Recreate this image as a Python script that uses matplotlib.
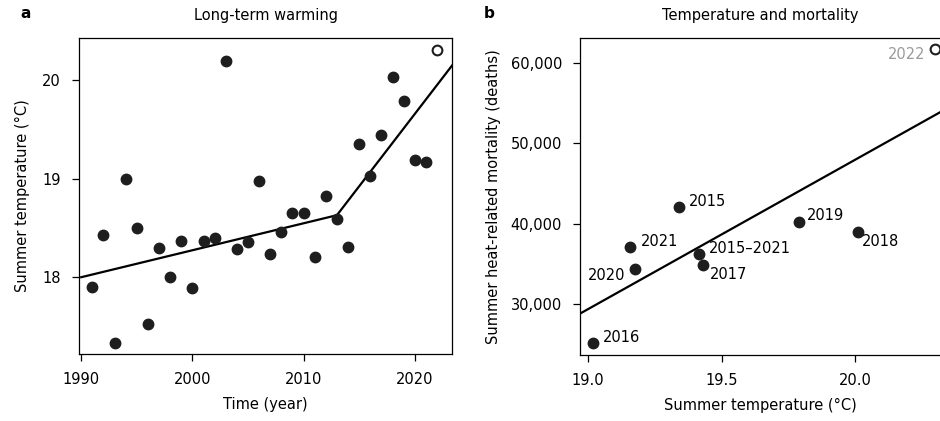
import matplotlib
matplotlib.use("Agg")
import matplotlib.pyplot as plt

# panel a: summer temperature by year
years = list(range(1991, 2023))
temps = [17.90, 18.43, 17.33, 19.00, 18.50, 17.52, 18.30, 18.00, 18.37, 17.89,
         18.37, 18.40, 20.20, 18.29, 18.36, 18.98, 18.24, 18.46, 18.65, 18.65,
         18.21, 18.82, 18.59, 18.31, 19.35, 19.03, 19.44, 20.03, 19.79, 19.19,
         19.17, 20.31]
trend_years = [1990, 2013, 2023.35]
trend_temps = [18.00, 18.63, 20.15]

# panel b: temperature vs heat-related deaths
b_labels = ["2016", "2020", "2021", "2015", "2015\u20132021", "2017", "2019", "2018", "2022"]
b_temps = [19.02, 19.176, 19.157, 19.34, 19.416, 19.43, 19.79, 20.01, 20.30]
b_deaths = [25150, 34360, 37100, 42080, 36220, 34850, 40200, 38960, 61740]
fit_temps = [18.97, 20.32]
fit_deaths = [28800, 53900]

# label offsets in points (dx, dy, ha)
label_offsets = {
    "2016": (7, 4, "left"),
    "2020": (-7, -5, "right"),
    "2021": (8, 4, "left"),
    "2015": (7, 4, "left"),
    "2015\u20132021": (7, 4, "left"),
    "2017": (5, -7, "left"),
    "2019": (6, 5, "left"),
    "2018": (3, -7, "left"),
    "2022": (-7, -4, "right"),
}

plt.rcParams["font.family"] = "DejaVu Sans"
FS = 10.5
dark = "#1e1e1e"

fig = plt.figure(figsize=(9.4, 4.21), dpi=100)

# ---- panel a
ax1 = fig.add_axes([79 / 940, 1 - 354 / 421, (452 - 79) / 940, (354 - 38) / 421])
ax1.plot(trend_years, trend_temps, color="black", lw=1.6, zorder=2)
ax1.plot(years[:-1], temps[:-1], "o", ms=7.5, color=dark, mec=dark, zorder=3)
ax1.plot(years[-1:], temps[-1:], "o", ms=7, mfc="white", mec=dark, mew=1.5, zorder=3)
ax1.set_xlim(1989.8, 2023.35)
ax1.set_ylim(17.22, 20.43)
ax1.set_xticks([1990, 2000, 2010, 2020])
ax1.set_yticks([18, 19, 20])
ax1.set_xlabel("Time (year)", fontsize=FS, labelpad=7)
ax1.set_ylabel("Summer temperature (\u00b0C)", fontsize=FS, labelpad=9)
ax1.set_title("Long-term warming", fontsize=FS, pad=13)

# ---- panel b
ax2 = fig.add_axes([580 / 940, 1 - 355 / 421, (940 - 580) / 940, (355 - 38) / 421])
ax2.plot(fit_temps, fit_deaths, color="black", lw=1.6, zorder=2)
for lab, t, d in zip(b_labels, b_temps, b_deaths):
    dx, dy, ha = label_offsets[lab]
    if lab == "2022":
        ax2.plot(t, d, "o", ms=7, mfc="white", mec=dark, mew=1.5, zorder=3)
        col = "#9a9a9a"
    else:
        ax2.plot(t, d, "o", ms=7.5, color=dark, mec=dark, zorder=3)
        col = "black"
    ax2.annotate(lab, (t, d), xytext=(dx, dy), textcoords="offset points",
                 ha=ha, va="center", fontsize=FS, color=col)
ax2.set_xlim(18.97, 20.318)
ax2.set_ylim(23650, 63110)
ax2.set_xticks([19.0, 19.5, 20.0])
ax2.set_xticklabels(["19.0", "19.5", "20.0"])
ax2.set_yticks([30000, 40000, 50000, 60000])
ax2.set_yticklabels(["30,000", "40,000", "50,000", "60,000"])
ax2.set_xlabel("Summer temperature (\u00b0C)", fontsize=FS, labelpad=7)
ax2.set_ylabel("Summer heat-related mortality (deaths)", fontsize=FS, labelpad=7)
ax2.set_title("Temperature and mortality", fontsize=FS, pad=13)
ax2.spines["right"].set_visible(False)

for ax in (ax1, ax2):
    for s in ax.spines.values():
        s.set_linewidth(0.9)
    ax.tick_params(direction="out", length=5, width=0.9, labelsize=FS, pad=8)

fig.text(20 / 940, 1 - 14 / 421, "a", fontsize=11, fontweight="bold", va="center")
fig.text(484 / 940, 1 - 14 / 421, "b", fontsize=11, fontweight="bold", va="center")

fig.savefig("out.png", dpi=100)
